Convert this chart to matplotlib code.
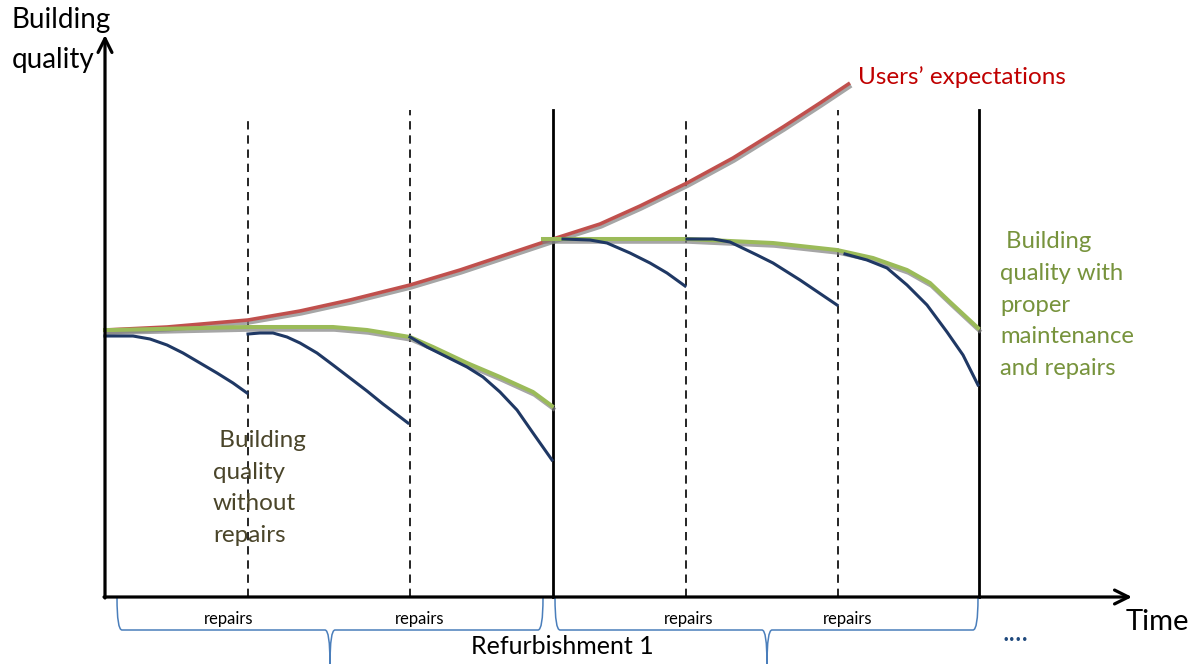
import matplotlib.pyplot as plt
import matplotlib.patheffects as pe
from matplotlib.path import Path
from matplotlib.patches import PathPatch

plt.rcParams['font.family'] = ['Lato', 'DejaVu Sans']

# time (t) and quality (q), origin at the axes corner
red_t = [0, 62, 143, 195, 245, 305, 355, 385, 448, 495, 535, 582, 628, 678, 715, 745]
red_q = [267, 270, 277, 286, 297, 312, 327, 337, 358, 373, 391, 414, 439, 470, 494, 514]

green1_t = [0, 8, 142, 228, 262, 305, 328, 362, 395, 428, 447]
green1_q = [267, 267, 270, 270, 267, 260, 250, 234, 220, 205, 191]
green2_t = [438, 582, 668, 732, 768, 802, 825, 845, 873]
green2_q = [358, 358, 354, 347, 339, 327, 314, 295, 269]

blue_segments = [
    ([0, 28, 45, 62, 78, 95, 112, 128, 142],
     [261, 261, 258, 252, 244, 234, 224, 214, 204]),
    ([143, 155, 168, 182, 195, 212, 228, 245, 262, 278, 303],
     [263, 264, 264, 260, 254, 244, 232, 219, 206, 193, 174]),
    ([305, 322, 342, 362, 378, 395, 412, 428, 447],
     [260, 250, 240, 230, 220, 205, 187, 164, 137]),
    ([458, 485, 502, 525, 545, 562, 580],
     [358, 357, 354, 344, 334, 324, 311]),
    ([582, 608, 625, 652, 668, 695, 732],
     [358, 358, 355, 342, 334, 317, 292]),
    ([740, 762, 782, 802, 822, 842, 858, 873],
     [343, 337, 329, 312, 292, 265, 242, 212]),
]

dashed_t = [143, 305, 581, 733]
dashed_top = [477, 487, 477, 487]
solid_t = [448, 874]
solid_top = 487

# braces: (start, end, center)
braces = [(12, 438, 225), (450, 873, 662)]
repairs_t = [124, 315, 584, 743]

fig = plt.figure(figsize=(11.95, 6.64), dpi=100)
ax = fig.add_axes([0, 0, 1, 1])
ax.set_xlim(-105, 1090)
ax.set_ylim(-67, 597)
ax.axis('off')

shadow = [pe.SimpleLineShadow(offset=(1, -2), shadow_color='#808080', alpha=0.7), pe.Normal()]

# verticals
for t, top in zip(dashed_t, dashed_top):
    ax.plot([t, t], [0, top], color='black', lw=1.2, ls=(0, (5, 3.5)), zorder=1)
for t in solid_t:
    ax.plot([t, t], [0, solid_top], color='black', lw=2.0, zorder=1)

# curves
ax.plot(red_t, red_q, color='#C0504D', lw=2.6, path_effects=shadow, solid_capstyle='butt', zorder=3)
ax.plot(green1_t, green1_q, color='#9BBB59', lw=2.9, path_effects=shadow, zorder=3)
ax.plot(green2_t, green2_q, color='#9BBB59', lw=2.9, path_effects=shadow, zorder=3)
for bt, bq in blue_segments:
    ax.plot(bt, bq, color='#1F3864', lw=2.2, zorder=4, solid_joinstyle='round')

# axes arrows
arrow = dict(arrowstyle='->', lw=2.3, color='black', mutation_scale=25, shrinkA=0, shrinkB=0)
ax.annotate('', xy=(0, 562), xytext=(0, -1), arrowprops=arrow, zorder=5)
ax.annotate('', xy=(1027, 0), xytext=(-1, 0), arrowprops=arrow, zorder=5)

# braces
top, mid, tip, r = -1, -33, -67, 5
for x0, x1, xc in braces:
    verts = [(x0, top), (x0, mid), (x0 + r, mid), (xc - r, mid), (xc, mid), (xc, tip),
             (xc, mid), (xc + r, mid), (x1 - r, mid), (x1, mid), (x1, top)]
    codes = [Path.MOVETO, Path.CURVE3, Path.CURVE3, Path.LINETO, Path.CURVE3, Path.CURVE3,
             Path.CURVE3, Path.CURVE3, Path.LINETO, Path.CURVE3, Path.CURVE3]
    ax.add_patch(PathPatch(Path(verts, codes), fill=False, edgecolor='#4A7EBB', lw=1.1))

# texts
ax.text(-93, 590, 'Building\nquality', fontsize=20, va='top', ha='left', linespacing=1.65)
ax.text(1052, -25, 'Time', fontsize=21, va='center', ha='center')
ax.text(753, 520, 'Users\u2019 expectations', fontsize=17.5, color='#C00000', va='center', ha='left')
ax.text(895, 292, ' Building\nquality with\nproper\nmaintenance\nand repairs', fontsize=17.2,
        color='#77933C', va='center', ha='left', linespacing=1.62)
ax.text(108, 109, ' Building\nquality\nwithout\nrepairs', fontsize=17.5,
        color='#4A452A', va='center', ha='left', linespacing=1.62)
for t in repairs_t:
    ax.text(t, -22, 'repairs', fontsize=12, va='center', ha='center')
ax.text(457, -50, 'Refurbishment 1', fontsize=18, va='center', ha='center')
ax.text(911, -44, '....', fontsize=20, color='#1F497D', va='baseline', ha='center')

fig.savefig('out.png', dpi=100)
